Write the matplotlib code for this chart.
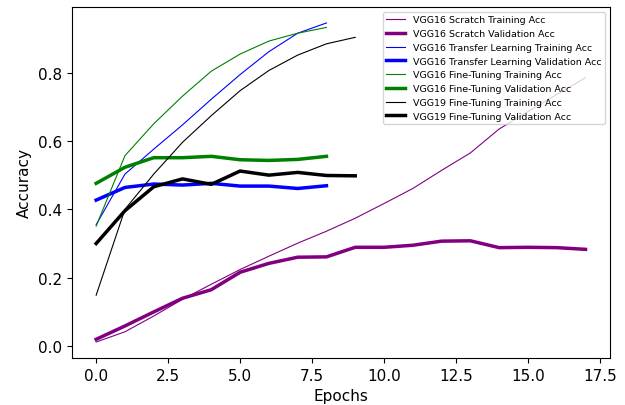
import matplotlib
matplotlib.use("Agg")
import matplotlib.pyplot as plt

# ── accuracy histories ──
scratch_train = [0.012, 0.042, 0.088, 0.137, 0.181, 0.224, 0.263, 0.301, 0.336,
                 0.374, 0.417, 0.461, 0.514, 0.565, 0.635, 0.686, 0.736, 0.785]
scratch_val = [0.020, 0.059, 0.100, 0.140, 0.165, 0.216, 0.242, 0.260, 0.261,
               0.289, 0.289, 0.295, 0.307, 0.308, 0.288, 0.289, 0.288, 0.283]
transfer_train = [0.355, 0.503, 0.576, 0.647, 0.722, 0.794, 0.861, 0.915, 0.945]
transfer_val = [0.427, 0.464, 0.474, 0.471, 0.476, 0.468, 0.468, 0.461, 0.469]
ft16_train = [0.351, 0.557, 0.650, 0.731, 0.804, 0.854, 0.892, 0.915, 0.932]
ft16_val = [0.476, 0.523, 0.551, 0.551, 0.555, 0.545, 0.543, 0.546, 0.555]
ft19_train = [0.149, 0.400, 0.503, 0.596, 0.674, 0.747, 0.806, 0.851, 0.884, 0.903]
ft19_val = [0.300, 0.396, 0.466, 0.489, 0.473, 0.512, 0.500, 0.508, 0.499, 0.498]

SERIES = [
    ("VGG16 Scratch Training Acc", scratch_train, "purple", 0.8),
    ("VGG16 Scratch Validation Acc", scratch_val, "purple", 2.5),
    ("VGG16 Transfer Learning Training Acc", transfer_train, "blue", 0.8),
    ("VGG16 Transfer Learning Validation Acc", transfer_val, "blue", 2.5),
    ("VGG16 Fine-Tuning Training Acc", ft16_train, "green", 0.8),
    ("VGG16 Fine-Tuning Validation Acc", ft16_val, "green", 2.5),
    ("VGG19 Fine-Tuning Training Acc", ft19_train, "black", 0.8),
    ("VGG19 Fine-Tuning Validation Acc", ft19_val, "black", 2.5),
]

fig = plt.figure(figsize=(6.25, 4.06), dpi=100)
ax = fig.add_axes([0.1147, 0.1158, 0.8613, 0.8645])

for label, vals, color, lw in SERIES:
    ax.plot(range(len(vals)), vals, color=color, linewidth=lw, label=label)

ax.set_xlabel("Epochs", fontsize=11)
ax.set_ylabel("Accuracy", fontsize=11)
ax.tick_params(labelsize=11)
ax.legend(loc="upper right", fontsize=6.8)

fig.savefig("out.png", dpi=100)
